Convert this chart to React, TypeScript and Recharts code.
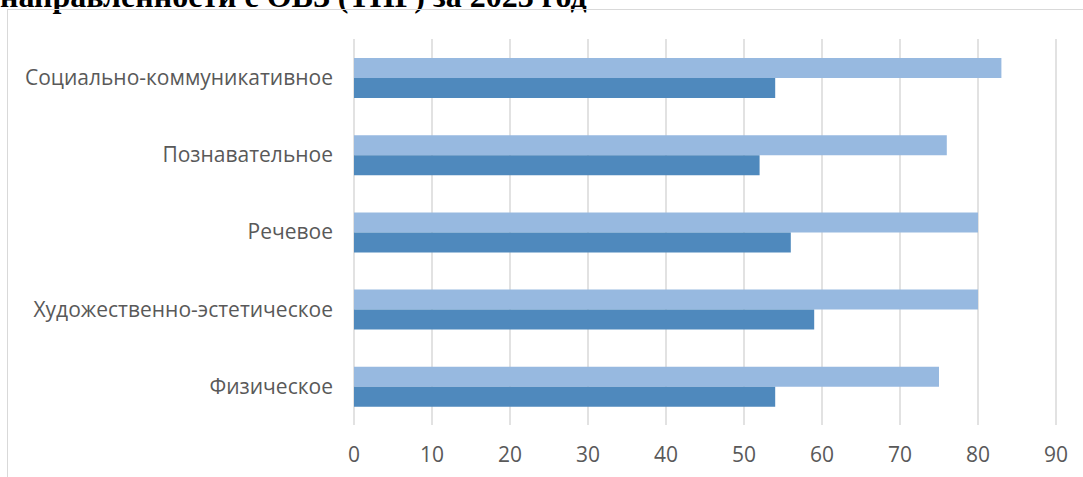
import { BarChart, Bar, XAxis, YAxis, CartesianGrid } from "recharts";

const categories = [
  "Социально-коммуникативное",
  "Познавательное",
  "Речевое",
  "Художественно-эстетическое",
  "Физическое",
];
const endOfYear = [83, 76, 80, 80, 75];
const startOfYear = [54, 52, 56, 59, 54];
const xTicks = [0, 10, 20, 30, 40, 50, 60, 70, 80, 90];

const data = categories.map((name, i) => ({
  name,
  end: endOfYear[i],
  start: startOfYear[i],
}));

const LABEL_FONT = "'Open Sans', 'Noto Sans', sans-serif";

export default function App() {
  return (
    <div style={{ position: "relative", width: 1083, height: 477, overflow: "hidden", background: "#fff" }}>
      <style>{`body{margin:0}`}</style>
      <div
        style={{
          position: "absolute",
          left: 0,
          top: -22,
          fontFamily: "'Liberation Serif', 'Times New Roman', serif",
          fontWeight: "bold",
          fontSize: 32,
          lineHeight: "36px",
          whiteSpace: "nowrap",
          color: "#000",
        }}
      >
        направленности с ОВЗ (ТНР) за 2023 год
      </div>
      <div
        style={{
          position: "absolute",
          left: 7,
          top: 9,
          width: 1200,
          height: 600,
          borderLeft: "1.5px solid #D9D9D9",
          borderTop: "1.5px solid #D9D9D9",
        }}
      />
      <div style={{ position: "absolute", left: 0, top: 0 }}>
        <BarChart
          width={1083}
          height={477}
          data={data}
          layout="vertical"
          margin={{ top: 39, right: 27, bottom: 22, left: 0 }}
          barSize={20}
          barGap={0}
        >
          <CartesianGrid horizontal={false} stroke="#D9D9D9" strokeWidth={1.5} />
          <XAxis
            type="number"
            domain={[0, 90]}
            ticks={xTicks}
            axisLine={false}
            tickLine={false}
            height={30}
            tickMargin={16}
            tick={{ fill: "#595959", fontSize: 21, fontFamily: LABEL_FONT }}
          />
          <YAxis
            type="category"
            dataKey="name"
            width={354}
            axisLine={false}
            tickLine={false}
            tickMargin={15}
            tick={{ fill: "#595959", fontSize: 21, fontFamily: LABEL_FONT }}
          />
          <Bar dataKey="end" fill="#97B9E0" isAnimationActive={false} />
          <Bar dataKey="start" fill="#4F89BD" isAnimationActive={false} />
        </BarChart>
      </div>
    </div>
  );
}
